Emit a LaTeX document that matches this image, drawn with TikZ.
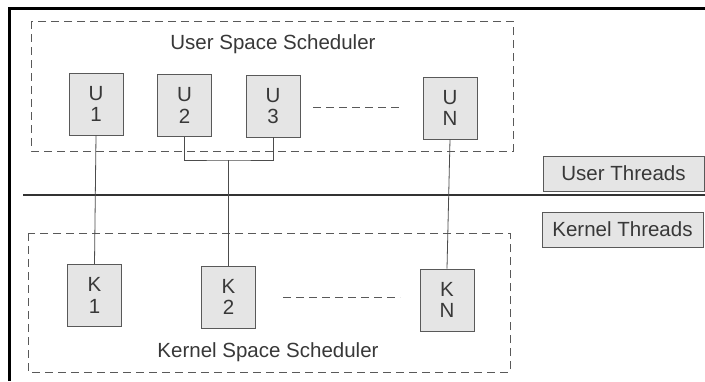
\documentclass[tikz,border=0pt]{standalone}
\usepackage{fontspec}
\setmainfont{Liberation Sans}
\begin{document}
\begin{tikzpicture}[x=1pt,y=-1pt,
  txt/.style={text=black!78, font=\fontsize{20.5}{21.5}\selectfont},
  thread/.style={txt, draw=black!65, fill=black!10, line width=0.8pt, minimum width=54pt, minimum height=62pt, inner sep=0pt, align=center},
  label/.style={txt, draw=black!65, fill=black!10, line width=0.8pt, minimum width=161pt, minimum height=35pt, inner sep=0pt},
  group/.style={draw=black!65, line width=0.9pt, dash pattern=on 8pt off 5pt},
  conn/.style={draw=black!70, line width=0.8pt},
  sep/.style={draw=black!80, line width=2pt},
  gap/.style={draw=black!65, line width=0.9pt, dash pattern=on 8pt off 5pt}]
\useasboundingbox (0,0) rectangle (705,381);
\fill[white] (0,0) rectangle (705,381);
% frame
\draw[black, line width=3pt] (9.5,381) -- (9.5,8.5) -- (705,8.5);
% scheduler groups
\draw[group] (31,21) rectangle (513,151);
\draw[group] (28,233) rectangle (510,372);
\node[txt] (ust) at (273,44) {User Space Scheduler};
\node[txt] (kst) at (268,352) {Kernel Space Scheduler};
% user threads
\node[thread] (U1) at (96,104) {U\\1};
\node[thread] (U2) at (184.5,105.5) {U\\2};
\node[thread] (U3) at (273,106) {U\\3};
\node[thread] (UN) at (450,108) {U\\N};
% kernel threads
\node[thread] (K1) at (94.5,295.5) {K\\1};
\node[thread] (K2) at (228.5,297) {K\\2};
\node[thread] (KN) at (447,300) {K\\N};
% ellipses
\coordinate (du1) at (313,107);
\coordinate (du2) at (403,107);
\coordinate (dk1) at (283,297);
\coordinate (dk2) at (400,297);
\draw[gap] (du1) -- (du2);
\draw[gap] (dk1) -- (dk2);
% separator
\coordinate (s1) at (23,195);
\coordinate (s2) at (705,195);
\draw[sep] (s1) -- (s2);
% labels
\node[label] (ut) at (623.5,173.5) {User Threads};
\node[label] (kt) at (622.5,229.5) {Kernel Threads};
% connectors
\coordinate (j) at (228.5,160);
\draw[conn] (U1.south) -- (K1.north);
\draw[conn] (U2.south) |- (j) -| (U3.south);
\draw[conn] (j) -- (K2.north);
\draw[conn] (UN.south) -- (KN.north);
\end{tikzpicture}
\end{document}
